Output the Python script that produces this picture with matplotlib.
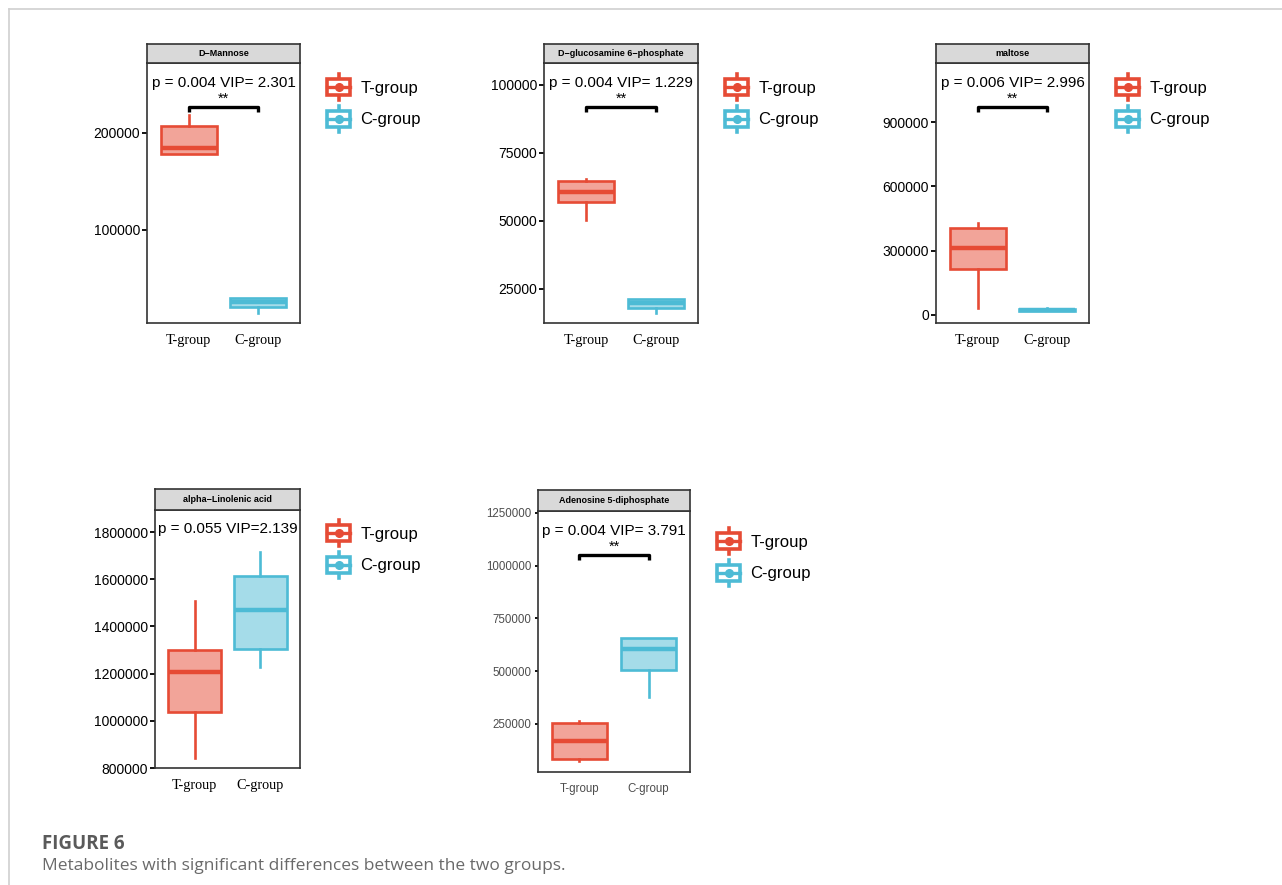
import matplotlib
matplotlib.use("Agg")
import matplotlib.pyplot as plt
import matplotlib.transforms as mtransforms
from matplotlib.colors import to_rgba
from matplotlib.lines import Line2D
from matplotlib.patches import Patch, Rectangle
from matplotlib.legend_handler import HandlerBase

# metabolite panels, in drawing order
metabolites = ["D\u2212Mannose", "D\u2212glucosamine 6\u2212phosphate", "maltose",
               "alpha\u2212Linolenic acid", "Adenosine 5-diphosphate"]
groups = ["T-group", "C-group"]
stat_labels = ["p = 0.004 VIP= 2.301", "p = 0.004 VIP= 1.229", "p = 0.006 VIP= 2.996",
               "p = 0.055 VIP=2.139", "p = 0.004 VIP= 3.791"]
stars = ["**", "**", "**", "", "**"]

# box statistics per group: whisker low, q1, median, q3, whisker high
t_stats = [
    [178400, 178400, 184500, 207000, 218500],
    [50300, 57000, 60700, 64700, 65300],
    [33000, 215600, 314000, 408000, 431000],
    [842000, 1038000, 1208000, 1302000, 1506000],
    [76000, 84000, 168000, 254000, 264000],
]
c_stats = [
    [14400, 20600, 25500, 29900, 29900],
    [16000, 18000, 19800, 21300, 21300],
    [18000, 20000, 25000, 30000, 31000],
    [1230000, 1306000, 1468000, 1613000, 1715000],
    [377000, 505000, 604000, 656000, 656000],
]
y_ticks = [
    [100000, 200000],
    [25000, 50000, 75000, 100000],
    [0, 300000, 600000, 900000],
    [800000, 1000000, 1200000, 1400000, 1600000, 1800000],
    [250000, 500000, 750000, 1000000, 1250000],
]
y_limits = [(4100, 272000), (12500, 108000), (-37500, 1176000),
            (800000, 1893600), (22500, 1259000)]

RED = "#E64B35"
BLUE = "#4DBBD5"
colors = [RED, BLUE]

W, H = 1282, 885
# panel boxes in pixels: left, strip top, plot top, right, bottom
panels = [
    (147, 44, 63, 300, 323),
    (544, 44, 63, 698, 323),
    (936, 44, 63, 1089, 323),
    (155, 489, 510, 300, 768),
    (538, 490, 511, 690, 772),
]
legend_y = [103, 103, 103, 549, 557]

plt.rcParams["font.family"] = ["Liberation Sans", "DejaVu Sans"]


def fig_rect(left, top, right, bottom):
    return [left / W, 1 - bottom / H, (right - left) / W, (bottom - top) / H]


class BoxKeyHandler(HandlerBase):
    """legend key drawn as a tiny boxplot"""

    def create_artists(self, legend, orig_handle, xdescent, ydescent,
                       width, height, fontsize, trans):
        col = orig_handle.get_edgecolor()
        cx = -xdescent + width / 2
        cy = -ydescent + height / 2
        bw, bh = width * 0.9, height * 0.72
        box = Rectangle((cx - bw / 2, cy - bh / 2), bw, bh, facecolor="white",
                        edgecolor=col, lw=2.6, transform=trans)
        mid = Line2D([cx - bw / 2, cx + bw / 2], [cy, cy], color=col, lw=2.4,
                     transform=trans)
        top = Line2D([cx, cx], [cy + bh / 2, cy + height * 0.62], color=col,
                     lw=2.6, transform=trans)
        bot = Line2D([cx, cx], [cy - bh / 2, cy - height * 0.62], color=col,
                     lw=2.6, transform=trans)
        dot = Line2D([cx], [cy], marker="o", ms=5.5, color=col, transform=trans)
        return [top, bot, box, mid, dot]


fig = plt.figure(figsize=(W / 100, H / 100), dpi=100)

for i, name in enumerate(metabolites):
    left, strip_top, top, right, bottom = panels[i]
    small = i == 4
    ax = fig.add_axes(fig_rect(left, top, right, bottom))

    stats = []
    for vals in (t_stats[i], c_stats[i]):
        lo, q1, med, q3, hi = vals
        stats.append(dict(whislo=lo, q1=q1, med=med, q3=q3, whishi=hi, fliers=[]))
    bp = ax.bxp(stats, positions=[1, 2], widths=0.8, patch_artist=True,
                showcaps=False, showfliers=False)
    for k, col in enumerate(colors):
        bp["boxes"][k].set_facecolor(to_rgba(col, 0.5))
        bp["boxes"][k].set_edgecolor(col)
        bp["boxes"][k].set_linewidth(1.9)
        bp["medians"][k].set_color(col)
        bp["medians"][k].set_linewidth(3.2)
        bp["medians"][k].set_solid_capstyle("butt")
        for w in bp["whiskers"][2 * k:2 * k + 2]:
            w.set_color(col)
            w.set_linewidth(1.9)

    ax.set_xlim(0.4, 2.6)
    ax.set_ylim(*y_limits[i])
    ax.set_yticks(y_ticks[i])
    ax.set_yticklabels([str(v) for v in y_ticks[i]])
    ax.set_xticks([1, 2])
    for sp in ax.spines.values():
        sp.set_color("#333333")
        sp.set_linewidth(1.2)

    if small:
        ax.set_xticklabels(groups, fontsize=8.3, color="#4D4D4D")
        ax.tick_params(axis="y", labelsize=8.3, labelcolor="#4D4D4D",
                       length=2.5, width=1.3, pad=2)
        ax.tick_params(axis="x", length=0, pad=8)
    else:
        ax.set_xticklabels(groups, fontsize=10.3, fontfamily="Liberation Serif")
        ax.tick_params(axis="y", labelsize=10, length=3.5, width=1.3,
                       color="black", pad=1.5)
        ax.tick_params(axis="x", length=0, pad=8)

    ax.text(0.5, 0.925, stat_labels[i], transform=ax.transAxes, ha="center",
            va="center", fontsize=11)

    if stars[i]:
        trans = mtransforms.blended_transform_factory(ax.transData, ax.transAxes)
        ax.plot([1, 1, 2, 2], [0.812, 0.83, 0.83, 0.812], transform=trans,
                color="black", lw=2.4, solid_capstyle="butt")
        ax.text(1.5, 0.835, stars[i], transform=trans, ha="center", va="bottom",
                fontsize=10.5)

    # facet strip
    sax = fig.add_axes(fig_rect(left, strip_top, right, top))
    sax.set_facecolor("#D9D9D9")
    sax.set_xticks([])
    sax.set_yticks([])
    for sp in sax.spines.values():
        sp.set_color("#333333")
        sp.set_linewidth(1.2)
    sax.text(0.5, 0.5, name, transform=sax.transAxes, ha="center", va="center",
             fontsize=6.5, fontweight="bold")

    handles = [Patch(edgecolor=c, facecolor="white") for c in colors]
    ax.legend(handles, groups, handler_map={Patch: BoxKeyHandler()},
              loc="center left", frameon=False, fontsize=12,
              bbox_to_anchor=((right + 26) / W, 1 - legend_y[i] / H),
              bbox_transform=fig.transFigure, borderpad=0, borderaxespad=0,
              handlelength=1.5, handleheight=1.6, handletextpad=0.55,
              labelspacing=0.63)

# caption and frame lines
fig.add_artist(Line2D([9 / W, 9 / W], [0, 1 - 9 / H], transform=fig.transFigure,
                      color="#D0D0D0", lw=1.2))
fig.add_artist(Line2D([9 / W, 1], [1 - 9 / H, 1 - 9 / H], transform=fig.transFigure,
                      color="#D0D0D0", lw=1.2))
fig.text(42 / W, 1 - 844 / H, "FIGURE 6", fontfamily="Open Sans", fontweight="bold",
         fontsize=13.5, color="#5A5A5A", va="center")
fig.text(42 / W, 1 - 866 / H,
         "Metabolites with significant differences between the two groups.",
         fontfamily="Open Sans", fontsize=12.5, color="#6A6A6A", va="center")

fig.savefig("out.png", dpi=100)
